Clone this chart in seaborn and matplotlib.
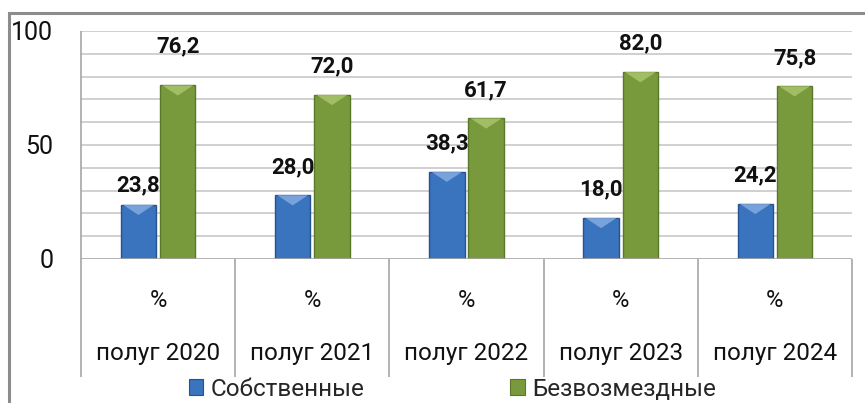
"""Доля собственных и безвозмездных поступлений по полугодиям 2020-2024."""

import matplotlib
matplotlib.use("Agg")
import matplotlib.pyplot as plt
from matplotlib.patches import Polygon, Rectangle
import pandas as pd
import seaborn as sns

# --- data ---------------------------------------------------------------
periods = ["полуг 2020", "полуг 2021", "полуг 2022", "полуг 2023", "полуг 2024"]
unit_row = ["%", "%", "%", "%", "%"]
series_names = ["Собственные", "Безвозмездные"]
own_values = [23.8, 28.0, 38.3, 18.0, 24.2]
free_values = [76.2, 72.0, 61.7, 82.0, 75.8]
y_ticks = [0, 50, 100]

# --- style --------------------------------------------------------------
BLUE = "#3a73be"
BLUE_EDGE = "#27528f"
GREEN = "#789a3c"
GREEN_EDGE = "#5a782a"
GRID = "#c8c8c8"
AXIS = "#a6a6a6"
FONT = ["Roboto", "DejaVu Sans"]
TEXT = "#111111"
LABEL_LIFT = 16  # points between bar top and label baseline
label_nudge = {(0, 1): 8, (0, 0): -6}  # (period, series) -> extra points

sns.set_theme(style="white")
plt.rcParams["font.family"] = FONT

df = pd.DataFrame({
    "period": periods * 2,
    "series": [series_names[0]] * len(periods) + [series_names[1]] * len(periods),
    "value": own_values + free_values,
})

fig = plt.figure(figsize=(8.65, 4.03), dpi=100)
ax = fig.add_axes([81 / 865, 1 - 259 / 403, (852 - 81) / 865, 228 / 403])

sns.barplot(data=df, x="period", y="value", hue="series", order=periods,
            hue_order=series_names, palette=[BLUE, GREEN], width=0.51, gap=0.1,
            saturation=1, edgecolor=None, linewidth=0, legend=False, ax=ax)

ax.set_ylim(0, 100)
ax.set_xlim(-0.5, len(periods) - 0.5)
ax.set_yticks(y_ticks)
ax.set_yticklabels([str(t) for t in y_ticks], fontsize=18, color=TEXT)
ax.tick_params(axis="y", length=0, pad=20)
ax.tick_params(axis="x", length=0)
ax.set_xticks(range(len(periods)))
ax.set_xticklabels([])
ax.set_xlabel("")
ax.set_ylabel("")
for s in ax.spines.values():
    s.set_visible(False)

# horizontal gridlines every 10
for v in range(10, 101, 10):
    ax.axhline(v, color=GRID, lw=1.2, zorder=0)
ax.axhline(0, color=AXIS, lw=1.2, zorder=3)

# category separators reaching down through the label rows
xt = ax.get_xaxis_transform()
ax.vlines([i - 0.5 for i in range(len(periods) + 1)], -0.518, 0, transform=xt,
          colors=AXIS, lw=1.2, clip_on=False)
ax.vlines([-0.5], 0, 1, transform=xt, colors=AXIS, lw=1.2, clip_on=False)

# two label rows under each category
for i, (u, p) in enumerate(zip(unit_row, periods)):
    ax.text(i, -0.18, u, transform=xt, ha="center", va="center", fontsize=17,
            color=TEXT)
    ax.text(i, -0.415, p, transform=xt, ha="center", va="center", fontsize=17.5,
            color=TEXT)

# bevel look and value labels
bars = [p for p in ax.patches if p.get_height() > 0]
edges = [BLUE_EDGE] * len(periods) + [GREEN_EDGE] * len(periods)
lights = ["#8db3e6"] * len(periods) + ["#b0cb74"] * len(periods)
for k, bar in enumerate(bars):
    bar.set_edgecolor(edges[k])
    bar.set_linewidth(1.0)
    x0, w, h = bar.get_x(), bar.get_width(), bar.get_height()
    tip = 4.5
    ax.add_patch(Polygon([[x0 + w * 0.06, h], [x0 + w * 0.94, h],
                          [x0 + w * 0.5, h - tip]], closed=True,
                         facecolor=lights[k], edgecolor="none", alpha=0.75, zorder=4))
    period_i, series_i = k % len(periods), k // len(periods)
    lift = LABEL_LIFT + label_nudge.get((period_i, series_i), 0)
    ax.annotate(f"{h:.1f}".replace(".", ","), (x0 + w / 2, h),
                xytext=(0, lift), textcoords="offset points", ha="center",
                va="baseline", fontsize=16, fontweight="bold", color=TEXT)

# outer chart frame (runs past the picture edges)
fig.patches.append(Rectangle((9 / 865, -0.1), 1.2, 1 - 13 / 403 + 0.1,
                             transform=fig.transFigure, fill=False,
                             edgecolor="#8c8c8c", lw=2.2))

# legend
handles = [Rectangle((0, 0), 1, 1, facecolor=c, edgecolor=e, lw=0.8)
           for c, e in [(BLUE, BLUE_EDGE), (GREEN, GREEN_EDGE)]]
fig.legend(handles, series_names, loc="center", bbox_to_anchor=(0.523, 14 / 403),
           ncol=2, frameon=False, fontsize=17.5, handlelength=0.6,
           handleheight=0.6, handletextpad=0.3, columnspacing=6.0,
           borderaxespad=0, borderpad=0)

fig.savefig("out.png", dpi=100)
